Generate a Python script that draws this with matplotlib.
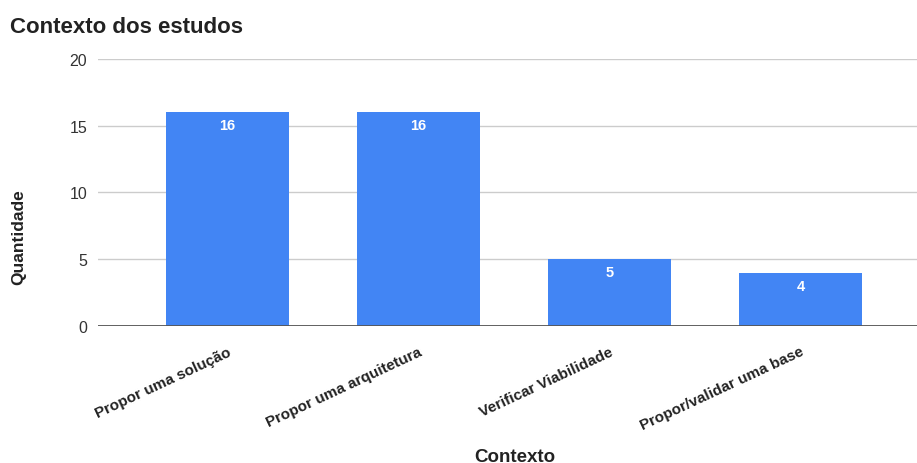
import numpy as np
import matplotlib.pyplot as plt

plt.rcParams['font.family'] = ['Liberation Sans', 'DejaVu Sans']

categorias = ['Propor uma solução', 'Propor uma arquitetura',
              'Verificar Viabilidade', 'Propor/validar uma base']
quantidade = [16, 16, 5, 4]
yticks = [0, 5, 10, 15, 20]

fig = plt.figure(figsize=(9.17, 4.64), dpi=100)
ax = fig.add_axes([0.107, 0.295, 0.893, 0.576])

x = np.arange(len(categorias))
bars = ax.bar(x, quantidade, width=0.644, color='#4285F4', zorder=3)

# valor de cada barra escrito dentro, junto ao topo
for b, v in zip(bars, quantidade):
    ax.text(b.get_x() + b.get_width() / 2, v - 0.45, str(v), ha='center', va='top',
            color='white', fontsize=10.5, fontweight='bold', zorder=4)

ax.set_ylim(0, 20)
ax.set_xlim(-0.678, 3.61)
ax.set_yticks(yticks)
ax.set_yticklabels([str(t) for t in yticks], fontsize=11.5, color='#333333')
ax.grid(axis='y', color='#cccccc', linewidth=1, zorder=0)
ax.axhline(0, color='#555555', linewidth=1.3, zorder=5)

ax.set_xticks(x)
ax.set_xticklabels(categorias, rotation=25, ha='right', rotation_mode='anchor',
                   fontsize=11, fontweight='bold', color='#222222')
ax.tick_params(axis='both', length=0, pad=8)
ax.tick_params(axis='x', pad=13)
for s in ax.spines.values():
    s.set_visible(False)

fig.text(0.011, 0.94, 'Contexto dos estudos', fontsize=16, fontweight='bold',
         color='#222222', ha='left', va='center')
fig.text(0.02, 0.489, 'Quantidade', rotation=90, fontsize=12.5, fontweight='bold',
         color='#222222', ha='center', va='center')
fig.text(0.561, 0.015, 'Contexto', fontsize=13.5, fontweight='bold',
         color='#222222', ha='center', va='center')

fig.savefig('out.png', dpi=100)
